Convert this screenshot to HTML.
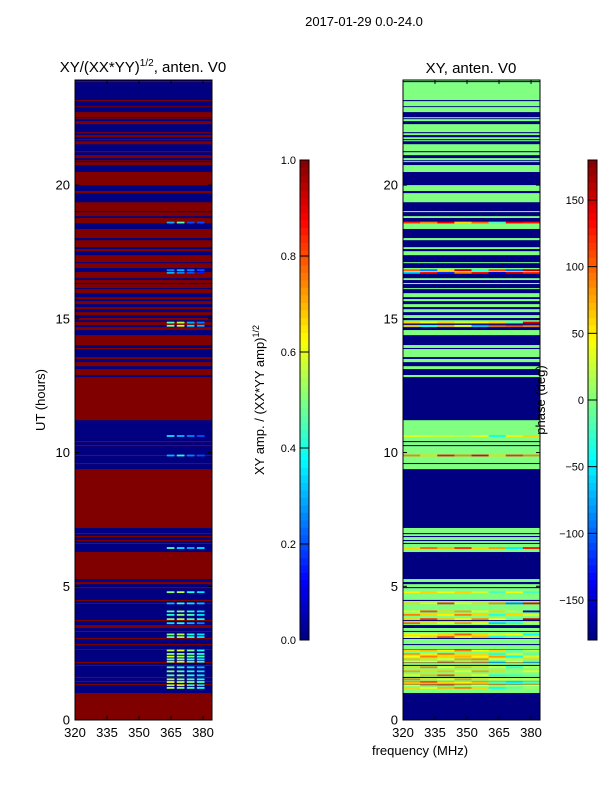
<!DOCTYPE html>
<html><head><meta charset="utf-8"><style>
html,body{margin:0;padding:0;background:#fff;}
svg{display:block;font-family:"Liberation Sans",sans-serif;}
</style></head><body>
<svg id="fig" width="600" height="800" viewBox="0 0 600 800">
<text x="364" y="26" font-size="13" text-anchor="middle">2017-01-29 0.0-24.0</text>
<text x="143" y="72" font-size="15" text-anchor="middle">XY/(XX*YY)<tspan dy="-6" font-size="10">1/2</tspan><tspan dy="6">, anten. V0</tspan></text>
<text x="471" y="73" font-size="15" text-anchor="middle">XY, anten. V0</text>
<text transform="translate(45,400) rotate(-90)" font-size="13" text-anchor="middle">UT (hours)</text>
<text x="420" y="755" font-size="13" text-anchor="middle">frequency (MHz)</text>
<text transform="translate(264,400) rotate(-90)" font-size="13" text-anchor="middle">XY amp. / (XX*YY amp)<tspan dy="-5" font-size="9">1/2</tspan></text>
<g id="left"></g>
<g id="right"></g>
<g id="cb1"></g>
<g id="cb2"></g>
<text transform="translate(545,400) rotate(-90)" font-size="13" text-anchor="middle">phase (deg)</text>
</svg>
<script>
// ---- data ----
var yTicks = [0, 5, 10, 15, 20];
var xTicks = [320, 335, 350, 365, 380];
var ampTicks = [0.0, 0.2, 0.4, 0.6, 0.8, 1.0];
var phaseTicks = [-150, -100, -50, 0, 50, 100, 150];
// flagged (bad) time bands in UT hours: amp = 1, phase = -180
var flagTop = [23.89,23.18,22.95,22.73,22.50,22.39,21.98,21.87,21.72,21.64,21.27,21.12,20.93,20.86,20.49,19.78,19.36,18.99,18.77,18.36,17.94,17.61,17.38,17.08,16.75,16.45,16.30,16.11,15.81,15.66,15.44,15.25,15.03,14.88,14.69,14.39,13.91,13.57,13.38,13.12,12.82,10.43,10.28,9.91,9.61,9.38,6.99,6.88,6.73,6.62,6.28,5.16,4.97,4.49,4.37,3.74,3.55,3.33,3.07,2.84,2.65,2.17,2.06,1.61,1.46,1.35,1.01];
var flagBot = [23.85,23.14,22.92,22.54,22.47,22.28,21.94,21.79,21.68,21.53,21.23,21.01,20.90,20.75,20.00,19.70,19.03,18.84,18.58,18.02,17.68,17.53,17.12,16.90,16.52,16.34,16.15,15.96,15.74,15.55,15.36,15.14,14.95,14.77,14.58,14.02,13.87,13.50,13.23,12.90,11.21,10.39,10.24,9.87,9.57,7.18,6.95,6.84,6.69,6.58,5.27,5.08,4.93,4.45,4.34,3.70,3.44,3.29,3.03,2.80,2.62,2.13,2.02,1.57,1.42,1.31,0.0];
// noisy rows: hour, amplitude in 4 chunks (363-382 MHz), phase in 8 chunks (320-384 MHz)
var noisyHours = [18.60,16.82,16.72,14.86,14.74,10.62,9.89,6.43,4.78,4.36,4.06,3.93,3.77,3.62,3.20,3.10,2.60,2.47,2.37,2.27,2.18,1.97,1.82,1.67,1.52,1.42,1.30,1.20];
var ampA = [0.3,0.25,0.3,0.45,0.5,0.35,0.3,0.45,0.5,0.3,0.45,0.4,0.5,0.35,0.5,0.45,0.55,0.5,0.6,0.45,0.5,0.45,0.5,0.45,0.55,0.6,0.5,0.55];
var ampB = [0.45,0.3,0.25,0.55,0.6,0.3,0.4,0.35,0.55,0.4,0.5,0.5,0.55,0.4,0.55,0.5,0.6,0.5,0.55,0.5,0.55,0.4,0.45,0.5,0.5,0.55,0.55,0.5];
var ampC = [0.2,0.25,0.2,0.3,0.35,0.25,0.25,0.3,0.4,0.35,0.4,0.45,0.45,0.3,0.4,0.4,0.5,0.45,0.5,0.4,0.45,0.35,0.4,0.4,0.45,0.5,0.4,0.45];
var ampD = [0.2,0.2,0.15,0.25,0.3,0.2,0.2,0.35,0.35,0.3,0.35,0.35,0.4,0.25,0.35,0.35,0.4,0.4,0.45,0.35,0.4,0.3,0.35,0.35,0.4,0.45,0.35,0.4];
var phA = [120,100,-60,60,70,40,90,60,50,60,40,90,60,100,50,40,60,80,40,70,50,60,80,40,90,70,50,60];
var phB = [90,-90,130,40,-40,30,60,100,60,50,110,60,120,60,40,60,70,50,90,60,40,90,60,70,60,100,80,40];
var phC = [140,60,-120,60,80,30,130,70,40,120,60,50,70,40,60,110,50,90,60,40,80,50,70,110,50,60,90,70];
var phD = [60,150,90,30,50,20,90,120,60,40,80,90,50,80,100,50,90,60,70,80,60,70,40,60,80,50,60,90];
var phE = [100,-30,130,50,-80,40,140,60,30,60,40,60,90,50,60,70,40,60,50,90,70,60,80,40,60,70,40,60];
var phF = [-20,110,-150,60,120,-40,60,80,-20,90,60,-30,40,-60,30,-40,60,-30,80,50,-40,30,60,-30,50,-20,60,-40];
var phG = [140,-100,150,-10,130,50,120,-50,40,-90,20,60,-10,-30,40,-20,-10,30,-40,20,40,-30,10,-20,30,-50,20,-10];
var phH = [130,160,120,150,110,60,90,130,-20,140,-150,30,160,20,-40,30,20,-10,30,60,-30,20,40,-10,30,-20,40,10];

// ---- scales ----
var NS = 'http://www.w3.org/2000/svg';
var T0 = 80, B0 = 720, HMAX = 23.93, FMIN = 320, FMAX = 384.2;
function yOf(h){ return B0 - h * (B0 - T0) / HMAX; }
function jet(v){
  v = Math.max(0, Math.min(1, v));
  function c(x){ return Math.round(255 * Math.max(0, Math.min(1, x))); }
  var r = 1.5 - Math.abs(4*v - 3), g = 1.5 - Math.abs(4*v - 2), b = 1.5 - Math.abs(4*v - 1);
  return 'rgb(' + c(r) + ',' + c(g) + ',' + c(b) + ')';
}
function mk(tag, attrs, parent){
  var e = document.createElementNS(NS, tag);
  for (var k in attrs) e.setAttribute(k, attrs[k]);
  parent.appendChild(e); return e;
}

function panel(gid, X0, X1, kind){
  var g = document.getElementById(gid);
  function xOf(f){ return X0 + (f - FMIN) * (X1 - X0) / (FMAX - FMIN); }
  var base = kind === 'amp' ? jet(0.0) : jet(0.5);
  var bg = mk('rect', {x:X0, y:T0, width:X1-X0, height:B0-T0, fill: base}, g);
  
  
  for (var i = 0; i < flagTop.length; i++){
    var y1 = yOf(flagTop[i]), y2 = yOf(flagBot[i]);
    var r = mk('rect', {x:X0, y:y1, width:X1-X0, height:Math.max(0.9, y2-y1), fill: kind === 'amp' ? jet(1) : jet(0)}, g);
    
    
  }
  var amps = [ampA, ampB, ampC, ampD];
  var phs = [phA, phB, phC, phD, phE, phF, phG, phH];
  for (var j = 0; j < noisyHours.length; j++){
    var yc = yOf(noisyHours[j]);
    if (kind === 'amp'){
      for (var k = 0; k < 4; k++){
        var f0 = 363 + k*4.7, f1 = f0 + 3.6;
        var c = mk('rect', {x:xOf(f0), y:yc-0.9, width:xOf(f1)-xOf(f0), height:1.8, fill: jet(amps[k][j])}, g);
        
        
      }
    } else {
      for (var k2 = 0; k2 < 8; k2++){
        var p0 = FMIN + k2*(FMAX-FMIN)/8, p1 = p0 + (FMAX-FMIN)/8;
        var c2 = mk('rect', {x:xOf(p0), y:yc-0.9, width:xOf(p1)-xOf(p0)+0.3, height:1.8, fill: jet((phs[k2][j]+180)/360)}, g);
        
        
      }
    }
  }
  var fr = mk('rect', {x:X0, y:T0, width:X1-X0, height:B0-T0, fill:'none', stroke:'#000', 'stroke-width':1}, g);
  
  
  yTicks.forEach(function(t){
    var y = yOf(t);
    mk('line', {x1:X0, x2:X0+4, y1:y, y2:y, stroke:'#000'}, g);
    mk('line', {x1:X1, x2:X1-4, y1:y, y2:y, stroke:'#000'}, g);
    var tx = mk('text', {x:X0-5, y:y+4.5, 'font-size':13, 'text-anchor':'end'}, g);
    tx.textContent = t;
    
    
  });
  xTicks.forEach(function(t){
    var x = xOf(t);
    mk('line', {x1:x, x2:x, y1:B0, y2:B0-4, stroke:'#000'}, g);
    mk('line', {x1:x, x2:x, y1:T0, y2:T0+4, stroke:'#000'}, g);
    var tx = mk('text', {x:x, y:B0+17, 'font-size':13, 'text-anchor':'middle'}, g);
    tx.textContent = t;
    
    
  });
}
panel('left', 75, 212, 'amp');
panel('right', 403, 540, 'phase');

function colorbar(gid, X, vmin, vmax, ticks, fmt){
  var g = document.getElementById(gid), T = 160, B = 640, W = 9;
  var n = 64;
  for (var i = 0; i < n; i++){
    var y = B - (i+1)*(B-T)/n;
    mk('rect', {x:X, y:y, width:W, height:(B-T)/n + 0.4, fill: jet((i+0.5)/n)}, g);
  }
  mk('rect', {x:X, y:T, width:W, height:B-T, fill:'none', stroke:'#000'}, g);
  ticks.forEach(function(t){
    var y = B - (t - vmin)/(vmax - vmin)*(B-T);
    mk('line', {x1:X, x2:X+W, y1:y, y2:y, stroke:'#000'}, g);
    var tx = mk('text', {x:X-4, y:y+4, 'font-size':11, 'text-anchor':'end'}, g);
    tx.textContent = fmt(t);
    
    
  });
}
colorbar('cb1', 300, 0, 1, ampTicks, function(t){ return t.toFixed(1); });
colorbar('cb2', 588, -180, 180, phaseTicks, function(t){ return t < 0 ? '\u2212' + (-t) : '' + t; });
</script>
</body></html>
